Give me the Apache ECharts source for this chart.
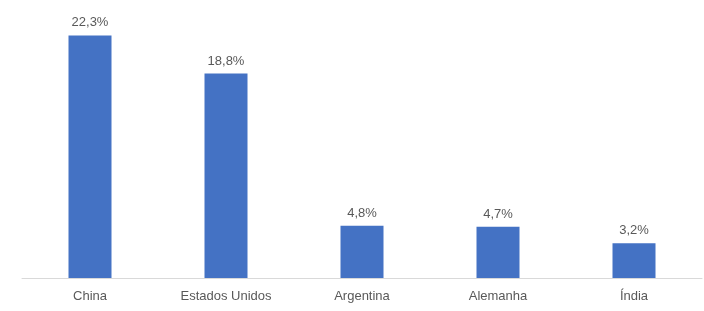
<!DOCTYPE html>
<html><head><meta charset="utf-8">
<script src="https://cdn.jsdelivr.net/npm/echarts@6/dist/echarts.min.js"></script>
<style>html,body{margin:0;padding:0;background:#fff}#c{width:704px;height:311px}</style>
</head><body><div id="c"></div>
<script>
const categories = ["China", "Estados Unidos", "Argentina", "Alemanha", "Índia"];
const values = [22.3, 18.8, 4.8, 4.7, 3.2];

const chart = echarts.init(document.getElementById('c'), null, {renderer: 'canvas'});
const fnt = '"Liberation Sans", Arial, sans-serif';
chart.setOption({
  animation: false,
  grid: {left: 22, right: 2, top: 6, bottom: 33},
  xAxis: {
    type: 'category', data: categories,
    axisLine: {lineStyle: {color: '#d9d9d9', width: 1}},
    axisTick: {show: false},
    axisLabel: {color: '#595959', fontSize: 13, fontFamily: fnt, margin: 12}
  },
  yAxis: {type: 'value', min: 0, max: 25, show: false, splitLine: {show: false}},
  series: [{
    type: 'bar', data: values, barWidth: 43,
    itemStyle: {color: '#4472C4'},
    label: {show: true, position: 'top', distance: 6, color: '#595959', fontSize: 13, fontFamily: fnt,
      formatter: p => p.value.toFixed(1).replace('.', ',') + '%'}
  }]
});
</script></body></html>
